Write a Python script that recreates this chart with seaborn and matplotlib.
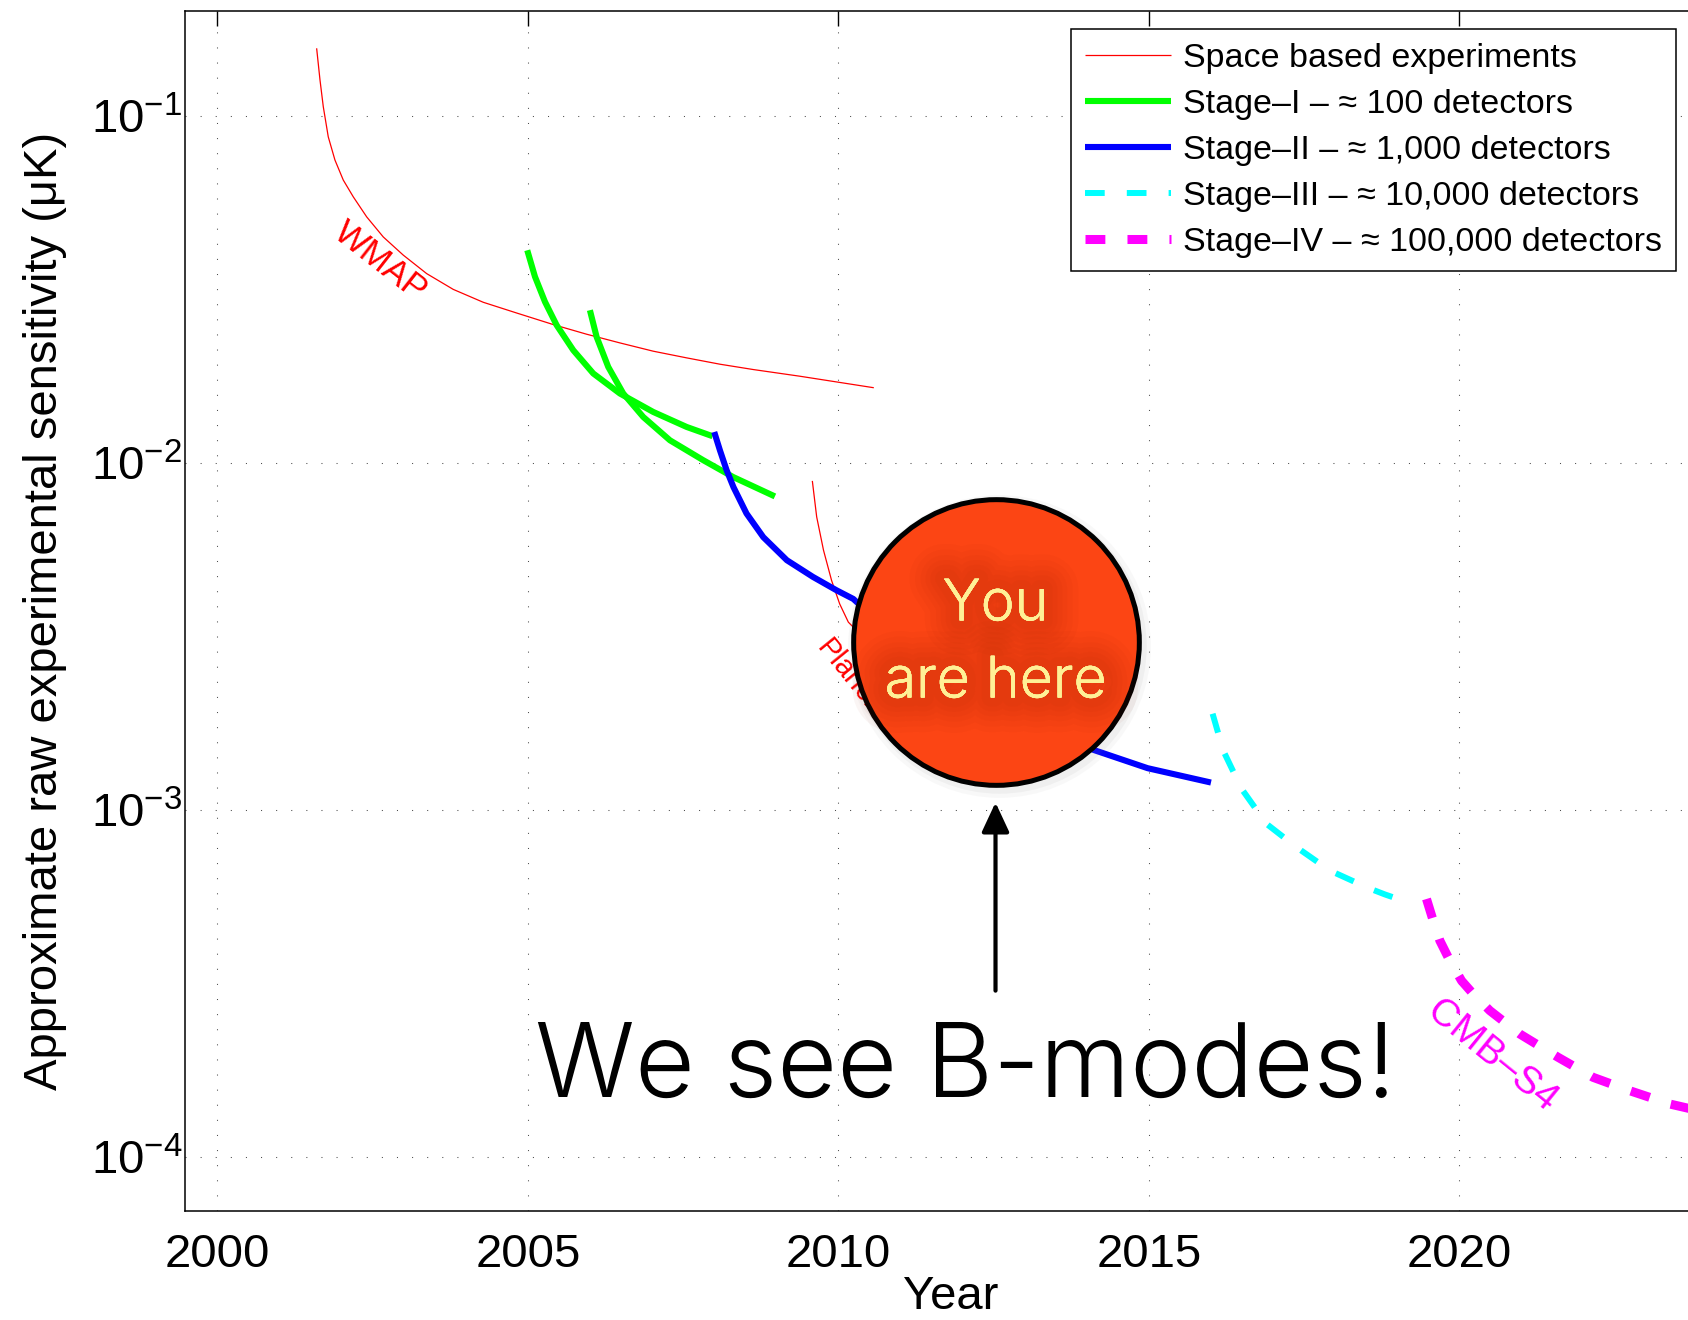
import os
import pandas as pd
import matplotlib
matplotlib.use("Agg")
import matplotlib.pyplot as plt
import matplotlib.patheffects as pe
import matplotlib.transforms as mtransforms
from matplotlib import font_manager
from matplotlib.ticker import FixedLocator, LogLocator, NullFormatter, NullLocator
import seaborn as sns

# ---------------------------------------------------------------
# Sensitivity tracks: year vs. approximate raw sensitivity (uK)
# ---------------------------------------------------------------
wmap_year = [2001.597, 2001.651, 2001.704, 2001.784, 2001.892, 2002.026, 2002.187,
             2002.403, 2002.670, 2002.992, 2003.369, 2003.797, 2004.280, 2004.818,
             2005.407, 2005.945, 2006.481, 2007.018, 2007.555, 2008.092, 2008.628,
             2009.380, 2010.570]
wmap_sens = [0.1571, 0.1273, 0.1066, 0.0873, 0.0748, 0.0655, 0.0586,
             0.0513, 0.0449, 0.0398, 0.0352, 0.0317, 0.0291, 0.0271,
             0.0251, 0.02354, 0.02222, 0.02103, 0.02012, 0.01929, 0.01862,
             0.01781, 0.01650]

planck_year = [2009.58, 2009.65, 2009.76, 2009.89, 2010.02, 2010.16,
               2010.60, 2011.20, 2012.00, 2012.60]
planck_sens = [0.00889, 0.00700, 0.00561, 0.00459, 0.00393, 0.00348,
               0.00290, 0.00250, 0.00210, 0.00190]

stage1a_year = [2004.989, 2005.113, 2005.274, 2005.462, 2005.730, 2006.052,
                2006.481, 2007.018, 2007.555, 2007.974]
stage1a_sens = [0.0411, 0.0345, 0.0292, 0.0250, 0.02117, 0.01814,
                0.01588, 0.01405, 0.01272, 0.01196]

stage1b_year = [2005.998, 2006.106, 2006.293, 2006.535, 2006.857, 2007.287,
                2007.823, 2008.306, 2008.977]
stage1b_sens = [0.02761, 0.02312, 0.01895, 0.01588, 0.01359, 0.01164,
                0.01020, 0.00912, 0.00802]

stage2_year = [2008.00, 2008.092, 2008.20, 2008.31, 2008.52, 2008.79, 2009.17,
               2009.59, 2009.97, 2010.24, 2011.0, 2012.0, 2013.0, 2014.11,
               2014.98, 2016.0]
stage2_sens = [0.01230, 0.01089, 0.00954, 0.00853, 0.00716, 0.00612, 0.00525,
               0.00470, 0.00430, 0.00406, 0.00305, 0.00232, 0.00185, 0.00149,
               0.00132, 0.00120]

stage3_year = [2016.026, 2016.196, 2016.493, 2016.895, 2017.378, 2017.915,
               2018.531, 2018.800, 2019.0]
stage3_sens = [0.001895, 0.001485, 0.001151, 0.000912, 0.000781, 0.000669,
               0.000596, 0.000571, 0.000555]

stage4_year = [2019.471, 2019.578, 2019.686, 2019.820, 2020.035, 2020.222,
               2020.491, 2020.974, 2021.591, 2022.155, 2022.745, 2023.390, 2024.0]
stage4_sens = [0.000554, 0.000480, 0.000420, 0.000376, 0.000322, 0.000295,
               0.000264, 0.000226, 0.0001936, 0.0001695, 0.0001551, 0.000142, 0.000134]

legend_labels = [
    "Space based experiments",
    "Stage\u2013I \u2013 \u2248 100 detectors",
    "Stage\u2013II \u2013 \u2248 1,000 detectors",
    "Stage\u2013III \u2013 \u2248 10,000 detectors",
    "Stage\u2013IV \u2013 \u2248 100,000 detectors",
]

year_ticks = [2000, 2005, 2010, 2015, 2020]
decade_ticks = [1e-4, 1e-3, 1e-2, 1e-1]

# "You are here" marker and the arrow pointing at it
here_year, here_sens = 2012.53, 0.003051
arrow_tip, arrow_tail = 0.001051, 0.0003014

# ---------------------------------------------------------------
sns.set_theme(style="white")
plt.rcParams["font.family"] = ["Liberation Sans", "DejaVu Sans"]
plt.rcParams["mathtext.fontset"] = "custom"
plt.rcParams["mathtext.rm"] = "Liberation Sans"
plt.rcParams["mathtext.it"] = "Liberation Sans:italic"
plt.rcParams["mathtext.bf"] = "Liberation Sans:bold"
plt.rcParams["mathtext.default"] = "regular"


def light_face():
    wanted = ["inter-light", "roboto-light", "lato-light", "opensans-light", "notosans-light"]
    entries = {}
    for f in font_manager.fontManager.ttflist:
        key = os.path.splitext(os.path.basename(f.fname))[0].replace(" ", "").replace("_", "-").lower()
        entries[key] = f.fname
    for w in wanted:
        if w in entries:
            return font_manager.FontProperties(fname=entries[w])
    for f in font_manager.fontManager.ttflist:
        if f.name in ("Roboto", "Inter", "Lato", "Open Sans", "Noto Sans") \
                and str(f.weight) in ("300", "light") and f.style == "normal":
            return font_manager.FontProperties(fname=f.fname)
    return font_manager.FontProperties(family="Liberation Sans")


LIGHT = light_face()

W, H = 1688, 1320
fig = plt.figure(figsize=(W / 100, H / 100), dpi=100)
ax_l, ax_r, ax_t, ax_b = 185, 1704, 10.8, 1211
ax = fig.add_axes([ax_l / W, 1 - ax_b / H, (ax_r - ax_l) / W, (ax_b - ax_t) / H])
ax.set_yscale("log")
ax.set_xlim(1999.477, 2023.94)
ax.set_ylim(6.98e-5, 0.2015)


def track(years, sens, color, lw, ls="-", z=3):
    df = pd.DataFrame({"year": years, "sens": sens})
    sns.lineplot(data=df, x="year", y="sens", color=color, linewidth=lw,
                 linestyle=ls, sort=False, estimator=None, legend=False,
                 ax=ax, zorder=z)
    line = ax.lines[-1]
    line.set_solid_capstyle("butt")
    line.set_dash_capstyle("butt")
    line.set_solid_joinstyle("round")
    line.set_dash_joinstyle("round")
    return line


dash3 = (0, (3.3, 3.7))
dash4 = (0, (2.2, 2.45))

h_space = track(wmap_year, wmap_sens, "#ff0000", 0.9)
track(planck_year, planck_sens, "#ff0000", 0.9)
h_s1 = track(stage1a_year, stage1a_sens, "#00ff00", 4.4)
track(stage1b_year, stage1b_sens, "#00ff00", 4.4)
h_s2 = track(stage2_year, stage2_sens, "#0000ff", 4.4)
h_s3 = track(stage3_year, stage3_sens, "#00ffff", 4.3, dash3)
h_s4 = track(stage4_year, stage4_sens, "#ff00ff", 6.5, dash4)

# Axis styling
ax.xaxis.set_major_locator(FixedLocator(year_ticks))
ax.xaxis.set_minor_locator(NullLocator())
ax.yaxis.set_major_locator(FixedLocator(decade_ticks))
ax.yaxis.set_minor_locator(LogLocator(base=10, subs=[2, 3, 4, 5, 6, 7, 8, 9], numticks=20))
ax.yaxis.set_minor_formatter(NullFormatter())
ax.set_yticklabels([r"$10^{-4}$", r"$10^{-3}$", r"$10^{-2}$", r"$10^{-1}$"])
ax.tick_params(which="both", direction="in", top=True, right=True, colors="black")
ax.tick_params(which="major", length=11, width=1.0, labelsize=34)
ax.tick_params(which="minor", length=5, width=0.9)
ax.tick_params(axis="x", which="major", pad=16)
ax.tick_params(axis="y", which="major", pad=2)
for sp in ax.spines.values():
    sp.set_color("black")
    sp.set_linewidth(1.1)
ax.set_axisbelow(True)
ax.grid(True, which="major", color="0.3", linestyle=(0, (1, 13.5)), linewidth=0.75)
ax.grid(False, which="minor")

ax.set_xlabel("Year", fontsize=34, color="black")
ax.set_ylabel("Approximate raw experimental sensitivity (\u03bcK)", fontsize=34, color="black")
ax.xaxis.label.set_va("center")
ax.yaxis.label.set_va("center")
ax.xaxis.set_label_coords(0.504, -0.0717)
ax.yaxis.set_label_coords((45 - ax_l) / (ax_r - ax_l), 0.5)

# Curve annotations
ax.text(2002.62, 0.0380, "WMAP", color="#ff0000", fontsize=25, rotation=-38,
        ha="center", va="center", rotation_mode="anchor", zorder=4)
ax.text(2009.73, 0.00304, "Planck", color="#ff0000", fontsize=21, rotation=-51,
        ha="left", va="center", rotation_mode="anchor", zorder=4)
ax.text(2020.53, 1.955e-4, "CMB\u2013S4", color="#ff00ff", fontsize=28, rotation=-39,
        ha="center", va="center", rotation_mode="anchor", zorder=4)

# "You are here" disc
shadow_tr = mtransforms.offset_copy(ax.transData, fig=fig, x=3, y=-4, units="dots")
for ms, a in [(218, 0.05), (212, 0.07)]:
    ax.plot([here_year], [here_sens], marker="o", markersize=ms, color="0.5",
            alpha=a, markeredgewidth=0, transform=shadow_tr, zorder=5)
ax.plot([here_year], [here_sens], marker="o", markersize=205.7,
        markerfacecolor="#fc4514", markeredgecolor="black", markeredgewidth=3.6,
        linestyle="none", zorder=6)

# soft dark halo behind the caption letters
glow = [pe.withStroke(linewidth=w, foreground="#a02508", alpha=0.045)
        for w in (50, 42, 34, 27, 20, 13)] + [pe.Normal()]
t_you = ax.text(here_year, 0.003521, "You", fontproperties=LIGHT, color="#fff096",
                ha="center", va="baseline", zorder=7, path_effects=glow)
t_are = ax.text(here_year, 0.002111, "are here", fontproperties=LIGHT, color="#fff096",
                ha="center", va="baseline", zorder=7, path_effects=glow)
t_big = ax.text(2012.05, 1.49e-4, "We see B-modes!", fontproperties=LIGHT, color="black",
                ha="center", va="baseline", zorder=7)

renderer = fig.canvas.get_renderer()
for t, base, target in [(t_you, 45.6, 102), (t_are, 45.6, 222), (t_big, 80, 861)]:
    t.set_fontsize(base)
    w = t.get_window_extent(renderer).width
    t.set_fontsize(base * target / w)
t_you.set_fontsize(t_are.get_fontsize())

ax.annotate("", xy=(here_year, arrow_tip), xytext=(here_year, arrow_tail),
            arrowprops=dict(arrowstyle="-|>,head_length=0.9,head_width=0.42",
                            mutation_scale=20, lw=3.0, color="black",
                            shrinkA=0, shrinkB=0), zorder=7)

# Legend
handles = [h_space, h_s1, h_s2, h_s3, h_s4]
leg = ax.legend(handles, legend_labels, loc="upper left",
                bbox_to_anchor=(1071 / W, 1 - 29 / H), bbox_transform=fig.transFigure,
                fontsize=24.5, frameon=True, fancybox=False, shadow=False,
                edgecolor="black", facecolor="white", framealpha=1,
                borderaxespad=0, borderpad=0.4, handlelength=2.55,
                handletextpad=0.35, labelspacing=0.44)
leg.get_frame().set_linewidth(1.1)
leg.set_zorder(10)
for txt in leg.get_texts():
    txt.set_color("black")

fig.savefig("out.png", dpi=100, facecolor="white")
